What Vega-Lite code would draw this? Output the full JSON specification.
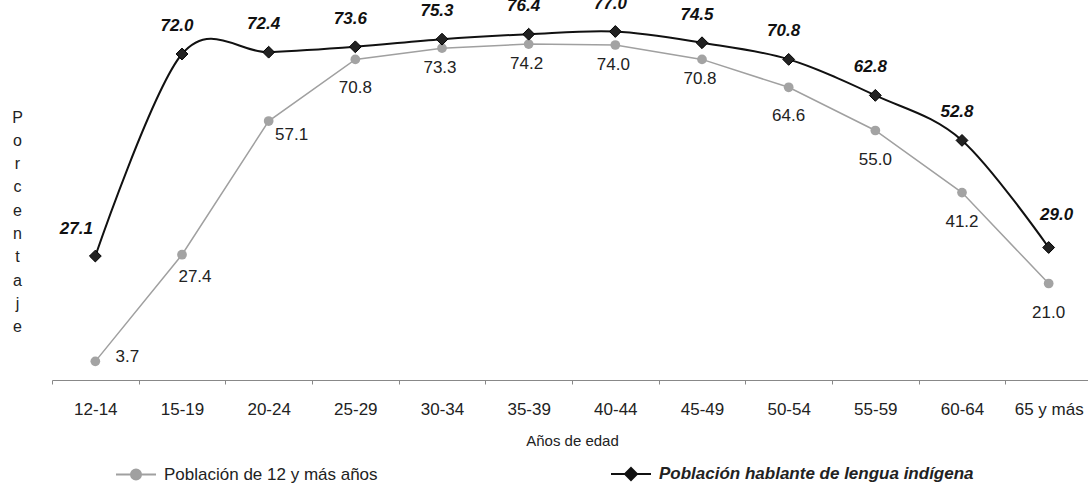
{
  "$schema": "https://vega.github.io/schema/vega-lite/v6.json",
  "width": 1040,
  "height": 378,
  "autosize": {"type": "none"},
  "padding": {"left": 52, "top": 0, "right": 0, "bottom": 111},
  "background": "white",
  "config": {"view": {"stroke": null}, "font": "Liberation Sans"},
  "data": {
    "values": [
      {"edad": "12-14", "serie": "Población de 12 y más años", "valor": 3.7},
      {"edad": "15-19", "serie": "Población de 12 y más años", "valor": 27.4},
      {"edad": "20-24", "serie": "Población de 12 y más años", "valor": 57.1},
      {"edad": "25-29", "serie": "Población de 12 y más años", "valor": 70.8},
      {"edad": "30-34", "serie": "Población de 12 y más años", "valor": 73.3},
      {"edad": "35-39", "serie": "Población de 12 y más años", "valor": 74.2},
      {"edad": "40-44", "serie": "Población de 12 y más años", "valor": 74.0},
      {"edad": "45-49", "serie": "Población de 12 y más años", "valor": 70.8},
      {"edad": "50-54", "serie": "Población de 12 y más años", "valor": 64.6},
      {"edad": "55-59", "serie": "Población de 12 y más años", "valor": 55.0},
      {"edad": "60-64", "serie": "Población de 12 y más años", "valor": 41.2},
      {"edad": "65 y más", "serie": "Población de 12 y más años", "valor": 21.0},
      {"edad": "12-14", "serie": "Población hablante de lengua indígena", "valor": 27.1},
      {"edad": "15-19", "serie": "Población hablante de lengua indígena", "valor": 72.0},
      {"edad": "20-24", "serie": "Población hablante de lengua indígena", "valor": 72.4},
      {"edad": "25-29", "serie": "Población hablante de lengua indígena", "valor": 73.6},
      {"edad": "30-34", "serie": "Población hablante de lengua indígena", "valor": 75.3},
      {"edad": "35-39", "serie": "Población hablante de lengua indígena", "valor": 76.4},
      {"edad": "40-44", "serie": "Población hablante de lengua indígena", "valor": 77.0},
      {"edad": "45-49", "serie": "Población hablante de lengua indígena", "valor": 74.5},
      {"edad": "50-54", "serie": "Población hablante de lengua indígena", "valor": 70.8},
      {"edad": "55-59", "serie": "Población hablante de lengua indígena", "valor": 62.8},
      {"edad": "60-64", "serie": "Población hablante de lengua indígena", "valor": 52.8},
      {"edad": "65 y más", "serie": "Población hablante de lengua indígena", "valor": 29.0}
    ]
  },
  "encoding": {
    "x": {
      "field": "edad",
      "type": "nominal",
      "sort": ["12-14", "15-19", "20-24", "25-29", "30-34", "35-39", "40-44", "45-49", "50-54", "55-59", "60-64", "65 y más"],
      "bandPosition": 0.5,
      "scale": {"type": "band", "paddingInner": 0, "paddingOuter": 0},
      "axis": {
        "title": "Años de edad",
        "titleFontSize": 15,
        "titleFontWeight": "normal",
        "titleColor": "#222",
        "titlePadding": 16,
        "labelAngle": 0,
        "labelFontSize": 17,
        "labelColor": "#222",
        "labelPadding": 17,
        "tickBand": "extent",
        "tickSize": 4,
        "tickColor": "#888",
        "domainColor": "#888",
        "offset": 2,
        "grid": false
      }
    },
    "y": {
      "field": "valor",
      "type": "quantitative",
      "scale": {"domain": [0, 84], "nice": false, "zero": false},
      "axis": {
        "title": ["P", "o", "r", "c", "e", "n", "t", "a", "j", "e"],
        "titleAngle": 0,
        "titleX": -35,
        "titleY": 117,
        "titleAlign": "center",
        "titleBaseline": "middle",
        "titleFontSize": 16,
        "titleFontWeight": "normal",
        "titleColor": "#222",
        "titleLineHeight": 23.3,
        "labels": false,
        "ticks": false,
        "domain": false,
        "grid": false
      }
    }
  },
  "layer": [
    {
      "transform": [{"filter": {"field": "serie", "equal": "Población de 12 y más años"}}],
      "mark": {"type": "line", "interpolate": "linear", "strokeWidth": 1.5},
      "encoding": {
        "color": {
          "field": "serie",
          "type": "nominal",
          "scale": {"domain": ["Población de 12 y más años", "Población hablante de lengua indígena"], "range": ["#a0a0a0", "#111111"]},
          "legend": {
            "title": null,
            "orient": "none",
            "legendX": 63,
            "legendY": 453,
            "direction": "horizontal",
            "columns": 2,
            "columnPadding": 229,
            "symbolSize": 1600,
            "symbolStrokeWidth": 2,
            "labelFontSize": 17,
            "labelColor": "#222",
            "labelOffset": 7,
            "labelLimit": 500,
            "encode": {
              "symbols": {
                "update": {
                  "shape": {"signal": "datum.value === 'Población de 12 y más años' ? 'M-1,0H1M-0.25,0A0.25,0.25,0,1,0,0.25,0A0.25,0.25,0,1,0,-0.25,0Z' : 'M-1,0H1M0,-0.3L0.3,0L0,0.3L-0.3,0Z'"},
                  "fill": {"scale": "color", "field": "value"},
                  "stroke": {"scale": "color", "field": "value"},
                  "opacity": {"value": 1}
                }
              },
              "labels": {
                "update": {
                  "fontWeight": {"signal": "datum.value === 'Población de 12 y más años' ? 'normal' : 'bold'"},
                  "fontStyle": {"signal": "datum.value === 'Población de 12 y más años' ? 'normal' : 'italic'"}
                }
              }
            }
          }
        }
      }
    },
    {
      "transform": [{"filter": {"field": "serie", "equal": "Población hablante de lengua indígena"}}],
      "mark": {"type": "line", "interpolate": "cardinal", "strokeWidth": 2},
      "encoding": {
        "color": {
          "field": "serie",
          "type": "nominal",
          "scale": {"domain": ["Población de 12 y más años", "Población hablante de lengua indígena"], "range": ["#a0a0a0", "#111111"]},
          "legend": {
            "title": null,
            "orient": "none",
            "legendX": 63,
            "legendY": 453,
            "direction": "horizontal",
            "columns": 2,
            "columnPadding": 229,
            "symbolSize": 1600,
            "symbolStrokeWidth": 2,
            "labelFontSize": 17,
            "labelColor": "#222",
            "labelOffset": 7,
            "labelLimit": 500,
            "encode": {
              "symbols": {
                "update": {
                  "shape": {"signal": "datum.value === 'Población de 12 y más años' ? 'M-1,0H1M-0.25,0A0.25,0.25,0,1,0,0.25,0A0.25,0.25,0,1,0,-0.25,0Z' : 'M-1,0H1M0,-0.3L0.3,0L0,0.3L-0.3,0Z'"},
                  "fill": {"scale": "color", "field": "value"},
                  "stroke": {"scale": "color", "field": "value"},
                  "opacity": {"value": 1}
                }
              },
              "labels": {
                "update": {
                  "fontWeight": {"signal": "datum.value === 'Población de 12 y más años' ? 'normal' : 'bold'"},
                  "fontStyle": {"signal": "datum.value === 'Población de 12 y más años' ? 'normal' : 'italic'"}
                }
              }
            }
          }
        }
      }
    },
    {
      "transform": [{"filter": {"field": "serie", "equal": "Población de 12 y más años"}}],
      "mark": {"type": "point", "shape": "circle", "size": 95, "filled": true, "color": "#a3a3a3", "opacity": 1}
    },
    {
      "transform": [{"filter": {"field": "serie", "equal": "Población hablante de lengua indígena"}}],
      "mark": {"type": "point", "shape": "diamond", "size": 140, "filled": true, "fill": "#222", "stroke": "#000", "strokeWidth": 1, "opacity": 1}
    },
    {
      "transform": [{"filter": {"and": [{"field": "serie", "equal": "Población de 12 y más años"}, {"field": "edad", "equal": "12-14"}]}}],
      "mark": {"type": "text", "fontSize": 17, "color": "#222", "align": "center", "baseline": "middle", "dx": 32, "dy": -4},
      "encoding": {"text": {"field": "valor", "type": "quantitative", "format": ".1f"}}
    },
    {
      "transform": [{"filter": {"and": [{"field": "serie", "equal": "Población de 12 y más años"}, {"field": "edad", "equal": "15-19"}]}}],
      "mark": {"type": "text", "fontSize": 17, "color": "#222", "align": "center", "baseline": "middle", "dx": 13, "dy": 22},
      "encoding": {"text": {"field": "valor", "type": "quantitative", "format": ".1f"}}
    },
    {
      "transform": [{"filter": {"and": [{"field": "serie", "equal": "Población de 12 y más años"}, {"field": "edad", "equal": "20-24"}]}}],
      "mark": {"type": "text", "fontSize": 17, "color": "#222", "align": "center", "baseline": "middle", "dx": 23, "dy": 14},
      "encoding": {"text": {"field": "valor", "type": "quantitative", "format": ".1f"}}
    },
    {
      "transform": [{"filter": {"and": [{"field": "serie", "equal": "Población de 12 y más años"}, {"field": "edad", "oneOf": ["30-34", "35-39", "40-44", "45-49"]}]}}],
      "mark": {"type": "text", "fontSize": 17, "color": "#222", "align": "center", "baseline": "middle", "dx": -2, "dy": 20},
      "encoding": {"text": {"field": "valor", "type": "quantitative", "format": ".1f"}}
    },
    {
      "transform": [{"filter": {"and": [{"field": "serie", "equal": "Población de 12 y más años"}, {"field": "edad", "oneOf": ["25-29", "50-54", "55-59", "60-64", "65 y más"]}]}}],
      "mark": {"type": "text", "fontSize": 17, "color": "#222", "align": "center", "baseline": "middle", "dx": 0, "dy": 29},
      "encoding": {"text": {"field": "valor", "type": "quantitative", "format": ".1f"}}
    },
    {
      "transform": [{"filter": {"and": [{"field": "serie", "equal": "Población hablante de lengua indígena"}, {"field": "edad", "equal": "12-14"}]}}],
      "mark": {"type": "text", "fontSize": 17, "fontWeight": "bold", "fontStyle": "italic", "color": "#111", "align": "center", "baseline": "middle", "dx": -19, "dy": -27},
      "encoding": {"text": {"field": "valor", "type": "quantitative", "format": ".1f"}}
    },
    {
      "transform": [{"filter": {"and": [{"field": "serie", "equal": "Población hablante de lengua indígena"}, {"field": "edad", "oneOf": ["15-19", "20-24", "25-29", "30-34", "35-39", "40-44", "45-49", "50-54", "55-59", "60-64"]}]}}],
      "mark": {"type": "text", "fontSize": 17, "fontWeight": "bold", "fontStyle": "italic", "color": "#111", "align": "center", "baseline": "middle", "dx": -5, "dy": -28},
      "encoding": {"text": {"field": "valor", "type": "quantitative", "format": ".1f"}}
    },
    {
      "transform": [{"filter": {"and": [{"field": "serie", "equal": "Población hablante de lengua indígena"}, {"field": "edad", "equal": "65 y más"}]}}],
      "mark": {"type": "text", "fontSize": 17, "fontWeight": "bold", "fontStyle": "italic", "color": "#111", "align": "center", "baseline": "middle", "dx": 8, "dy": -33},
      "encoding": {"text": {"field": "valor", "type": "quantitative", "format": ".1f"}}
    }
  ]
}
